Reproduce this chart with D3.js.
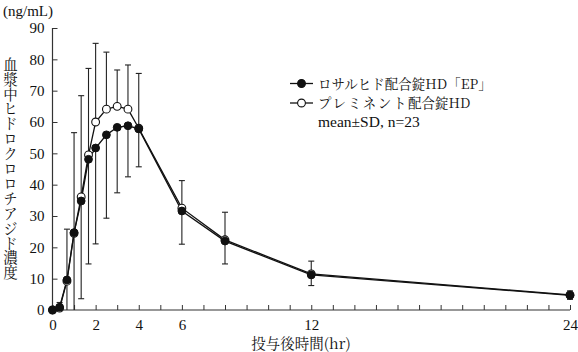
<!DOCTYPE html>
<html><head><meta charset="utf-8">
<script src="https://cdn.jsdelivr.net/npm/d3@7"></script>
<style>
body{margin:0;background:#fff;}
svg{display:block;}
svg text{font-family:"Liberation Serif","Noto Serif CJK JP",serif;}
svg text.cjk{font-family:"Noto Serif CJK JP","Liberation Serif",serif;}
</style></head>
<body><svg id="c" width="578" height="352"></svg>
<script>
// ---- data ----
const times = [0, 0.33, 0.67, 1, 1.33, 1.67, 2, 2.5, 3, 3.5, 4, 6, 8, 12, 24];
const seriesEP = [0, 0.9, 9.6, 24.7, 34.8, 48.1, 51.7, 55.9, 58.3, 58.8, 57.8, 31.6, 22.0, 11.2, 4.7];
const sdEP =     [0, 1.0, 12, 30, 31.2, 33.4, 30.6, 26.6, 20.9, 16.3, 12.1, 10.6, 7.3, 3.4, 1.3];
const seriesHD = [0, 0.6, 9.2, 24.5, 36.1, 49.5, 60.0, 64.1, 65.0, 64.1, 58.0, 32.5, 22.4, 11.5, 4.8];
const sdHD =     [0, 1.8, 16.6, 32.1, 32.3, 27.6, 25.1, 18.2, 11.6, 14.1, 17.5, 8.8, 8.8, 4.1, 1.3];
const xTicks = [0, 2, 4, 6, 12, 24];
const yTicks = [0, 10, 20, 30, 40, 50, 60, 70, 80, 90];
const legendLabels = ["ロサルヒド配合錠HD「EP」", "プレミネント配合錠HD"];
const noteLabel = "mean±SD, n=23";
const yUnit = "(ng/mL)";
const yTitle = "血漿中ヒドロクロロチアジド濃度";
const xTitle = "投与後時間(hr)";

const svg = d3.select("#c");
const x = d3.scaleLinear().domain([0, 24]).range([52.5, 570]);
const y = d3.scaleLinear().domain([0, 90]).range([310, 28]);
const ink = "#111";

// axes
const xAxis = d3.axisBottom(x).tickValues(d3.range(0, 25, 1)).tickSize(-5).tickPadding(9)
  .tickFormat(d => xTicks.includes(d) ? d : "");
const gx = svg.append("g").attr("transform", `translate(0,${y(0)})`).call(xAxis);
const yAxis = d3.axisLeft(y).tickValues(yTicks).tickSize(-5).tickPadding(8);
const gy = svg.append("g").attr("transform", `translate(${x(0)},0)`).call(yAxis);
[gx, gy].forEach(g => {
  g.attr("font-family", null).attr("font-size", null);
  g.select(".domain").attr("stroke", "#333").attr("stroke-width", 1.2);
  g.selectAll(".tick line").attr("stroke", "#333").attr("stroke-width", 1);
  g.selectAll(".tick text").attr("fill", ink).style("font-size", "15px");
});
gx.selectAll(".tick text").attr("dy", "0.71em");
gy.selectAll(".tick text").attr("dy", "0.33em");
gx.select(".domain").attr("d", `M${x(0)},0H${x(24)}`);
gy.select(".domain").attr("d", `M0,${y(0)}V${y(90)}`);

// error bars: upper for HD (open), lower for EP (filled)
const cap = 3;
const eb = svg.append("g").attr("stroke", "#222").attr("stroke-width", 1.1).attr("fill", "none");
times.forEach((t, i) => {
  const cx = x(t);
  if (sdHD[i] > 0) {
    const top = y(seriesHD[i] + sdHD[i]);
    eb.append("line").attr("x1", cx).attr("x2", cx).attr("y1", y(seriesHD[i])).attr("y2", top);
    eb.append("line").attr("x1", cx - cap).attr("x2", cx + cap).attr("y1", top).attr("y2", top);
  }
  if (sdEP[i] > 0) {
    const lo = Math.max(0, seriesEP[i] - sdEP[i]);
    const bot = y(lo);
    eb.append("line").attr("x1", cx).attr("x2", cx).attr("y1", y(seriesEP[i])).attr("y2", bot);
    if (lo > 0) eb.append("line").attr("x1", cx - cap).attr("x2", cx + cap).attr("y1", bot).attr("y2", bot);
  }
});

const line = d3.line().x(d => x(d[0])).y(d => y(d[1]));
const hdPts = times.map((t, i) => [t, seriesHD[i]]);
const epPts = times.map((t, i) => [t, seriesEP[i]]);
svg.append("path").attr("d", line(hdPts)).attr("fill", "none").attr("stroke", ink).attr("stroke-width", 1.3);
svg.append("path").attr("d", line(epPts)).attr("fill", "none").attr("stroke", ink).attr("stroke-width", 1.3);
const r = 3.9;
svg.append("g").selectAll("circle").data(hdPts).join("circle")
  .attr("cx", d => x(d[0])).attr("cy", d => y(d[1])).attr("r", r)
  .attr("fill", "#fff").attr("stroke", ink).attr("stroke-width", 1.1);
svg.append("g").selectAll("circle").data(epPts).join("circle")
  .attr("cx", d => x(d[0])).attr("cy", d => y(d[1])).attr("r", r)
  .attr("fill", ink).attr("stroke", ink).attr("stroke-width", 1);

// legend
const lg = svg.append("g");
const rows = [{lab: legendLabels[0], fill: ink, cy: 83.5}, {lab: legendLabels[1], fill: "#fff", cy: 103}];
rows.forEach(rw => {
  lg.append("line").attr("x1", 290).attr("x2", 313).attr("y1", rw.cy).attr("y2", rw.cy).attr("stroke", ink).attr("stroke-width", 1.3);
  lg.append("circle").attr("cx", 301.5).attr("cy", rw.cy).attr("r", r).attr("fill", rw.fill).attr("stroke", ink).attr("stroke-width", 1.1);
});
lg.append("text").attr("class", "cjk").attr("x", 318).attr("y", 88.5).style("font-size", "13.5px").attr("fill", ink).text(legendLabels[0]);
const t2 = lg.append("text").attr("class", "cjk").attr("x", 318).attr("y", 108).style("font-size", "13.5px").attr("fill", ink);
t2.append("tspan").style("letter-spacing", "1.6px").text(legendLabels[1].slice(0, 6));
t2.append("tspan").text(legendLabels[1].slice(6));
lg.append("text").attr("x", 318).attr("y", 127).style("font-size", "15.5px").attr("fill", ink).text(noteLabel);

// titles
svg.append("text").attr("x", 3).attr("y", 15.5).style("font-size", "15px").attr("fill", ink).text(yUnit);
svg.append("text").attr("class", "cjk").attr("x", 10.5).attr("y", 57).attr("writing-mode", "vertical-rl")
  .style("font-size", "14.5px").style("letter-spacing", "0.4px").attr("fill", ink).text(yTitle);
svg.append("text").attr("class", "cjk").attr("x", 301).attr("y", 348.5).attr("text-anchor", "middle")
  .style("font-size", "14.5px").attr("fill", ink).text(xTitle);
</script></body></html>
